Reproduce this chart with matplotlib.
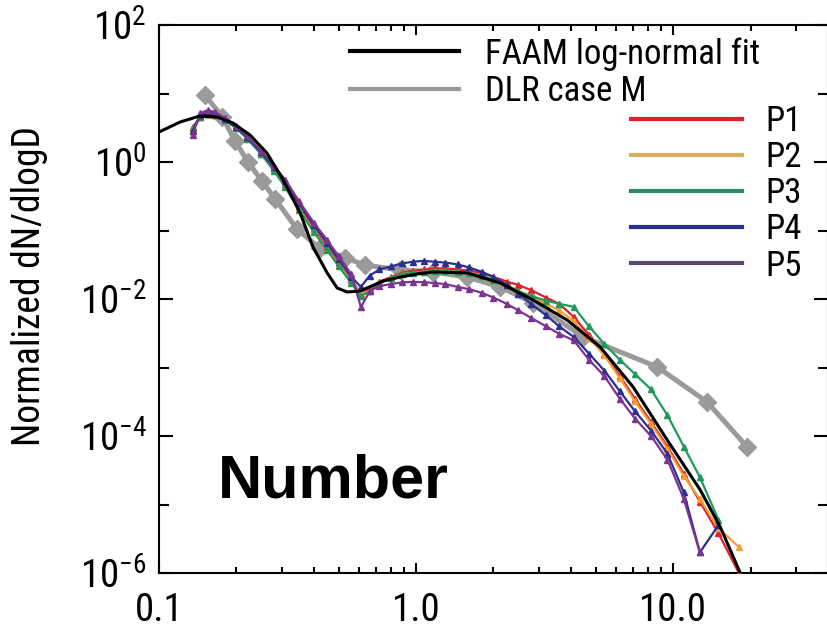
import numpy as np
import matplotlib
matplotlib.use('Agg')
import matplotlib.pyplot as plt
import matplotlib.font_manager as fm
from matplotlib.lines import Line2D
from matplotlib.ticker import NullFormatter, FixedLocator

# condensed face, whichever is installed first
have = {f.name for f in fm.fontManager.ttflist}
narrow = [n for n in ['Liberation Sans Narrow', 'Roboto Condensed', 'Archivo Narrow',
                      'DejaVu Sans'] if n in have][0]
plt.rcParams['font.family'] = [narrow, 'DejaVu Sans']
plt.rcParams['mathtext.fontset'] = 'custom'
plt.rcParams['mathtext.rm'] = narrow

# FAAM log-normal fit
fit_d = [0.100, 0.121, 0.144, 0.168, 0.194, 0.226, 0.263, 0.304, 0.354, 0.397,
         0.451, 0.493, 0.539, 0.606, 0.645, 0.744, 0.867, 1.009, 1.165, 1.579,
         2.122, 2.853, 3.868, 5.200, 6.988, 9.478, 12.74, 15.24, 18.23]
fit_n = [2.74, 3.84, 4.69, 4.54, 3.71, 2.48, 1.35, 0.546, 0.180, 0.0574,
         0.0240, 0.0145, 0.01265, 0.0131, 0.0145, 0.0183, 0.0209, 0.0232, 0.0248, 0.0240,
         0.0171, 0.00967, 0.00493, 0.00199, 5.19e-4, 8.75e-5, 1.63e-5, 4.70e-6, 1.0e-6]

# DLR case M
dlr_d = [0.151, 0.176, 0.198, 0.222, 0.252, 0.283, 0.344, 0.423, 0.529, 0.633,
         0.867, 1.165, 1.579, 2.122, 2.853, 4.465, 8.664, 13.56, 19.41]
dlr_n = [9.5, 4.6, 2.0, 1.0, 0.52, 0.29, 0.105, 0.055, 0.040, 0.0313,
         0.0265, 0.0248, 0.0209, 0.0150, 0.00875, 0.00279, 0.00102, 3.13e-4, 6.9e-5]

# size bins of the P runs
p_d = [0.135, 0.145, 0.155, 0.165, 0.18, 0.2, 0.22, 0.25, 0.28, 0.31,
       0.35, 0.4, 0.45, 0.5, 0.56, 0.61, 0.66, 0.72, 0.8, 0.88,
       0.97, 1.07, 1.18, 1.3, 1.45, 1.6, 1.8, 2.0, 2.25, 2.5,
       2.8, 3.2, 3.6, 4.1, 4.7, 5.4, 6.2, 7.1, 8.2, 9.5,
       11.0, 12.7, 15.0, 18.0]

p1 = [3.2, 4.6, 5.0, 4.9, 4.2, 3.2, 2.3, 1.35, 0.80, 0.48,
      0.23, 0.105, 0.058, 0.033, 0.019, 0.012, 0.014, 0.018, 0.021, 0.024,
      0.026, 0.027, 0.028, 0.028, 0.027, 0.026, 0.024, 0.021, 0.018, 0.016,
      0.0135, 0.0105, 0.0085, 0.0055, 0.0030, 0.0016, 7.5e-4, 3.5e-4, 1.6e-4, 7.0e-5,
      2.8e-5, 1.1e-5, 3.8e-6, 1.0e-6]
p2 = [3.0, 4.5, 4.9, 4.8, 4.1, 3.1, 2.2, 1.3, 0.76, 0.45,
      0.21, 0.098, 0.054, 0.031, 0.018, 0.012, 0.013, 0.017, 0.020, 0.023,
      0.024, 0.025, 0.026, 0.026, 0.025, 0.024, 0.022, 0.019, 0.016, 0.013,
      0.011, 0.0085, 0.0068, 0.0048, 0.0027, 0.0015, 7.0e-4, 3.2e-4, 1.5e-4, 6.5e-5,
      2.6e-5, 1.2e-5, 4.5e-6, 2.4e-6]
p3 = [3.1, 4.5, 5.0, 4.8, 4.1, 3.1, 2.2, 1.3, 0.74, 0.43,
      0.20, 0.095, 0.052, 0.030, 0.017, 0.011, 0.013, 0.017, 0.020, 0.023,
      0.024, 0.025, 0.026, 0.026, 0.025, 0.024, 0.022, 0.019, 0.016, 0.013,
      0.011, 0.0095, 0.0085, 0.0077, 0.0040, 0.0022, 0.0013, 8.0e-4, 4.8e-4, 2.0e-4,
      7.0e-5, 2.5e-5, 6.0e-6, np.nan]
p4 = [2.8, 4.8, 5.3, 5.1, 4.2, 3.2, 2.3, 1.38, 0.84, 0.52,
      0.25, 0.12, 0.066, 0.038, 0.021, 0.015, 0.022, 0.027, 0.030, 0.033,
      0.035, 0.036, 0.035, 0.034, 0.032, 0.029, 0.025, 0.021, 0.016, 0.012,
      0.0085, 0.0058, 0.0040, 0.0028, 0.0016, 9.0e-4, 4.5e-4, 2.3e-4, 1.2e-4, 5.5e-5,
      1.5e-5, 2.0e-6, 5.0e-6, np.nan]
p5 = [2.5, 5.2, 5.7, 5.4, 4.4, 3.4, 2.4, 1.45, 0.88, 0.55,
      0.27, 0.13, 0.073, 0.042, 0.023, 0.0076, 0.013, 0.0155, 0.0165, 0.0175,
      0.0178, 0.0176, 0.0171, 0.0165, 0.0150, 0.0140, 0.0123, 0.0105, 0.0085, 0.0068,
      0.0053, 0.0040, 0.0031, 0.0025, 0.0013, 7.5e-4, 3.5e-4, 1.8e-4, 1.0e-4, 4.5e-5,
      1.2e-5, 2.0e-6, np.nan, np.nan]

p_series = [('P1', p1, '#e0202a'),
            ('P2', p2, '#f0a035'),
            ('P3', p3, '#1f9a5c'),
            ('P4', p4, '#2b2f8f'),
            ('P5', p5, '#7a3590')]
p_legend_colors = ['#e0202a', '#d9ad62', '#2f8a68', '#2b2f8f', '#5e4a6e']

fig = plt.figure(figsize=(8.27, 6.36), dpi=100)
ax = fig.add_axes([159/827, 63/636, 669/827, 548/636])

ax.plot(dlr_d, dlr_n, color='#9a9a9a', lw=3.6, marker='D', ms=9, zorder=2)
for name, vals, col in p_series:
    ax.plot(p_d, vals, color=col, lw=1.6, marker='^', ms=4, zorder=3)
ax.plot(fit_d, fit_n, color='black', lw=2.2, zorder=4)

ax.set_xscale('log')
ax.set_yscale('log')
ax.set_xlim(0.1, 40)
ax.set_ylim(1e-6, 1e2)

ax.set_xticks([0.1, 1, 10])
ax.set_xticklabels(['0.1', '1.0', '10.0'])
ax.xaxis.set_minor_locator(FixedLocator(
    [m * 10.0**e for e in (-1, 0, 1) for m in range(2, 10) if m * 10.0**e < 40]))
ax.xaxis.set_minor_formatter(NullFormatter())
ax.set_yticks([1e-6, 1e-4, 1e-2, 1, 1e2])
ax.set_yticklabels([r'$\mathregular{10^{-6}}$', r'$\mathregular{10^{-4}}$',
                    r'$\mathregular{10^{-2}}$', r'$\mathregular{10^{0}}$',
                    r'$\mathregular{10^{2}}$'])
ax.yaxis.set_minor_locator(FixedLocator([1e-5, 1e-3, 1e-1, 1e1]))
ax.yaxis.set_minor_formatter(NullFormatter())

ax.tick_params(which='both', direction='in', top=True, right=True, width=1.5, colors='black')
ax.tick_params(axis='y', which='major', length=10, labelsize=28, pad=9)
ax.tick_params(axis='y', which='minor', length=7)
ax.tick_params(axis='x', which='major', length=7, labelsize=28, pad=14)
ax.tick_params(axis='x', which='minor', length=4)
for sp in ax.spines.values():
    sp.set_linewidth(1.5)

fig.text(30/827, 1 - 286/636, 'Normalized dN/dlogD', rotation=90, fontsize=27,
         ha='center', va='center')

ax.text(0.088, 0.137, 'Number', transform=ax.transAxes, fontsize=44,
        fontweight='bold', family='Liberation Sans', va='baseline')

h1 = [Line2D([], [], color='black', lw=3), Line2D([], [], color='#9a9a9a', lw=3)]
leg1 = ax.legend(h1, ['FAAM log-normal fit', 'DLR case M'], frameon=False,
                 fontsize=25, handlelength=3.15, handletextpad=0.75,
                 labelspacing=0.12, borderpad=0, borderaxespad=0,
                 loc='upper left', bbox_to_anchor=(350/827, 1 - 37/636),
                 bbox_transform=fig.transFigure)
ax.add_artist(leg1)
h2 = [Line2D([], [], color=c, lw=3) for c in p_legend_colors]
ax.legend(h2, [s[0] for s in p_series], frameon=False, fontsize=25,
          handlelength=3.2, handletextpad=0.66, labelspacing=0.09,
          borderpad=0, borderaxespad=0, loc='upper left',
          bbox_to_anchor=(631/827, 1 - 105/636), bbox_transform=fig.transFigure)

fig.savefig('out.png', dpi=100)
